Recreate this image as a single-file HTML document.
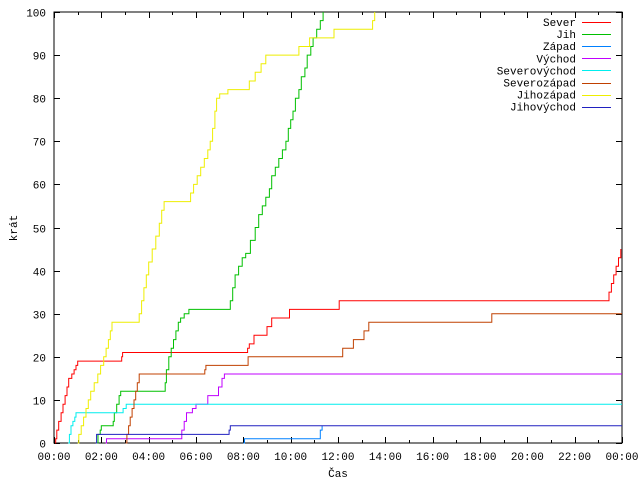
<!DOCTYPE html>
<html><head><meta charset="utf-8"><style>
html,body{margin:0;padding:0;background:#fff}
svg text{font-family:"Liberation Mono","DejaVu Sans Mono",monospace;font-size:11px;fill:#000}
</style></head><body>
<svg id="chart" width="640" height="480" viewBox="0 0 640 480" xmlns="http://www.w3.org/2000/svg">
<g id="grid"></g>
<g id="series"></g>
<g id="legend"></g>
<text x="17" y="228" text-anchor="middle" transform="rotate(-90 17 228)">krát</text>
<text x="338" y="477" text-anchor="middle">Čas</text>
</svg>
<script>
const names = ["Sever","Jih","Západ","Východ","Severovýchod","Severozápad","Jihozápad","Jihovýchod"];
const colors = ["#ff0000","#00c000","#0080ff","#c000ff","#00eeee","#c04000","#eeee00","#2020c0"];
const yTicks = [0,10,20,30,40,50,60,70,80,90,100];
const xTickLabels = ["00:00","02:00","04:00","06:00","08:00","10:00","12:00","14:00","16:00","18:00","20:00","22:00","00:00"];
// [hour, count] steps
const sever = [[0.05,0],[0.07,1],[0.12,3],[0.2,5],[0.3,7],[0.38,9],[0.47,11],[0.55,13],[0.62,15],[0.75,16],[0.85,17],[0.93,18],[1.0,19],[2.86,20],[2.9,21],[8.18,22],[8.25,23],[8.45,25],[9.0,27],[9.2,29],[9.95,31],[12.05,33],[23.45,35],[23.55,37],[23.65,39],[23.75,41],[23.85,43],[23.95,45]];
const jih = [[1.83,0],[1.86,2],[1.95,3],[2.0,4],[2.5,5],[2.55,7],[2.65,9],[2.75,11],[2.82,12],[4.7,14],[4.75,17],[4.85,20],[4.95,22],[5.05,24],[5.15,26],[5.25,28],[5.35,29],[5.5,30],[5.7,31],[7.45,33],[7.55,36],[7.65,39],[7.8,41],[7.95,43],[8.1,44],[8.3,47],[8.5,50],[8.65,53],[8.8,55],[8.95,57],[9.1,59],[9.2,62],[9.35,64],[9.5,66],[9.65,68],[9.8,70],[9.9,73],[10.0,75],[10.1,77],[10.2,80],[10.35,82],[10.45,85],[10.6,87],[10.7,90],[10.85,92],[10.95,94],[11.1,96],[11.25,98],[11.37,100]];
const zapad = [[8.0,0],[8.05,1],[11.25,3],[11.33,4]];
const vychod = [[2.18,0],[2.22,1],[5.4,3],[5.5,5],[5.6,7],[5.85,8],[6.0,9],[6.5,11],[6.95,13],[7.1,15],[7.2,16],[24,16]];
const sevVychod = [[0.6,0],[0.65,2],[0.72,4],[0.8,5],[0.88,6],[0.93,7],[2.92,8],[3.05,9],[24,9]];
const sevZapad = [[3.03,0],[3.08,2],[3.15,4],[3.22,6],[3.3,8],[3.38,10],[3.45,12],[3.52,14],[3.6,16],[6.37,17],[6.42,18],[8.2,20],[12.2,22],[12.65,24],[13.1,26],[13.3,28],[18.5,30],[24,30]];
const jihZapad = [[1.0,0],[1.05,2],[1.15,4],[1.25,6],[1.35,8],[1.45,10],[1.55,12],[1.7,14],[1.85,16],[1.97,18],[2.1,20],[2.2,22],[2.3,24],[2.38,26],[2.45,28],[3.6,30],[3.7,33],[3.8,36],[3.9,39],[4.0,42],[4.15,45],[4.3,48],[4.45,51],[4.55,54],[4.65,56],[5.77,58],[5.9,60],[6.05,62],[6.2,64],[6.35,66],[6.5,68],[6.6,70],[6.7,73],[6.8,77],[6.87,80],[7.0,81],[7.35,82],[8.25,84],[8.5,86],[8.75,88],[8.95,90],[10.35,92],[10.8,94],[11.83,96],[13.46,98],[13.55,100]];
const jihVychod = [[1.76,0],[1.8,2],[7.4,3],[7.45,4],[24,4]];
const allSeries = [sever,jih,zapad,vychod,sevVychod,sevZapad,jihZapad,jihVychod];

const X0=54, X1=622, Y0=443, Y1=12;
const xs = h => X0 + h/24*(X1-X0);
const ys = v => Y0 - v/100*(Y0-Y1);
const NS="http://www.w3.org/2000/svg";
function mk(tag, attrs, parent){const e=document.createElementNS(NS,tag);for(const k in attrs)e.setAttribute(k,attrs[k]);parent.appendChild(e);return e;}

const grid=document.getElementById('grid');
const frame=mk('rect',{x:X0,y:Y1,width:X1-X0,height:Y0-Y1,fill:'none',stroke:'#000','stroke-width':1},grid);


yTicks.forEach(v=>{
  const y=Math.round(ys(v))+0.5;
  const t=mk('path',{d:`M${X0} ${y}h6M${X1} ${y}h-6`,stroke:'#000'},grid);
  
  
  const l=mk('text',{x:46,y:y+4,'text-anchor':'end'},grid);
  l.textContent=v;
  
  
});
for(let h=0;h<=24;h++){
  const x=Math.round(xs(h))+0.5, len=(h%2===0)?6:3;
  const t=mk('path',{d:`M${x} ${Y0}v${-len}M${x} ${Y1}v${len}`,stroke:'#000'},grid);
  
  
}
xTickLabels.forEach((s,i)=>{
  const l=mk('text',{x:xs(i*2),y:460,'text-anchor':'middle'},grid);
  l.textContent=s;
  
  
});

const sg=document.getElementById('series');
allSeries.forEach((pts,i)=>{
  let d=`M${xs(pts[0][0]).toFixed(1)} ${ys(pts[0][1]).toFixed(1)}`;
  for(let k=1;k<pts.length;k++){
    d+=`H${xs(pts[k][0]).toFixed(1)}V${ys(pts[k][1]).toFixed(1)}`;
  }
  const p=mk('path',{d:d,fill:'none',stroke:colors[i],'stroke-width':1},sg);
  
  
});

const lg=document.getElementById('legend');
names.forEach((n,i)=>{
  const y=22+i*12.1;
  const t=mk('text',{x:576,y:y+4,'text-anchor':'end'},lg);
  t.textContent=n;
  
  
  const l=mk('path',{d:`M582 ${Math.round(y)+0.5}H611`,stroke:colors[i]},lg);
  
  
});
</script>
</body></html>
